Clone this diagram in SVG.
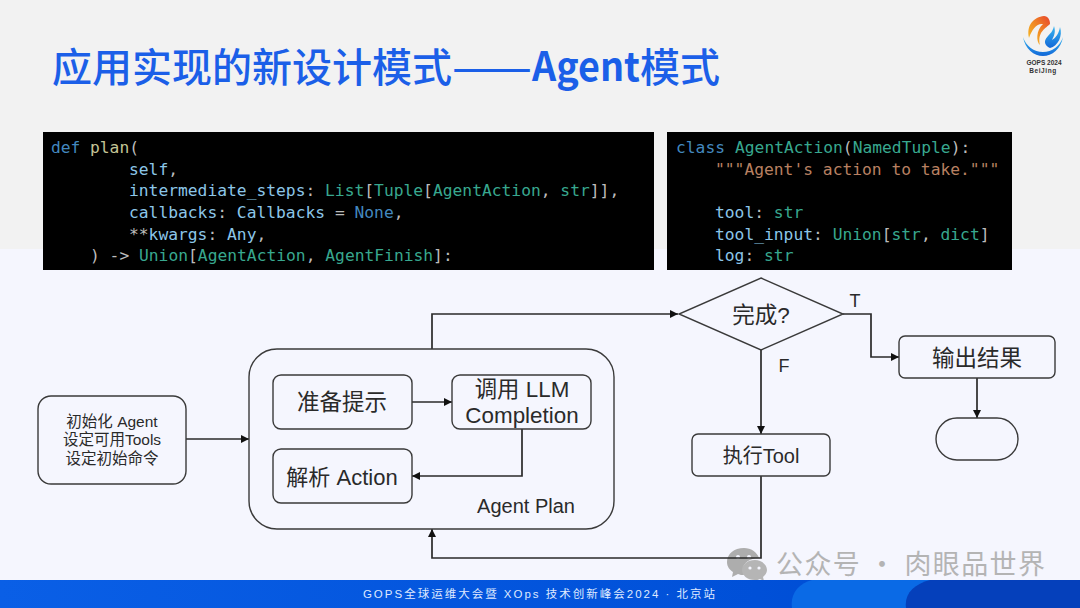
<svg xmlns="http://www.w3.org/2000/svg" width="1080" height="608" viewBox="0 0 1080 608">
<defs>
<style>
.n{fill:none;stroke:#3a3a3a;stroke-width:1.4}
.c{fill:none;stroke:#2a2a2a;stroke-width:1.7}
.t{font-family:"Liberation Sans","Noto Sans CJK SC",sans-serif;fill:#2a2a2a;text-anchor:middle}
.ttl{font-family:"Noto Sans CJK SC","Liberation Sans",sans-serif;font-size:40px;font-weight:500;fill:#1b5fe8}
.code{font-family:"DejaVu Sans Mono",monospace;font-size:16.3px;fill:#8cc6e8;white-space:pre}
.k{fill:#4388bf}.f{fill:#c4c496}.g{fill:#38a88f}.w{fill:#bcbcbc}.s{fill:#b98062}
</style>
<marker id="a" markerWidth="9" markerHeight="8" refX="8" refY="4" orient="auto" markerUnits="userSpaceOnUse"><path d="M0 0L8 4L0 8Z" fill="#111"/></marker>
<linearGradient id="foot" x1="0" x2="1" y1="0" y2="0"><stop offset="0" stop-color="#0a5fe6"/><stop offset=".7" stop-color="#0050d8"/><stop offset="1" stop-color="#0048cc"/></linearGradient>
<linearGradient id="lg1" x1="0" y1="1" x2="1" y2="0"><stop offset="0" stop-color="#f7c325"/><stop offset=".5" stop-color="#f08a24"/><stop offset="1" stop-color="#e8452c"/></linearGradient>
<linearGradient id="lg2" x1="0" y1="0" x2="0" y2="1"><stop offset="0" stop-color="#38b6f0"/><stop offset="1" stop-color="#1268d8"/></linearGradient>
</defs>
<rect width="1080" height="249" fill="#f2f2f2"/>
<rect y="249" width="1080" height="331" fill="#f5f6fe"/>
<g id="title">
<text class="ttl" x="52" y="82" textLength="400">应用实现的新设计模式</text>
<text class="ttl" x="452" y="82" textLength="80" lengthAdjust="spacingAndGlyphs">——</text>
<text class="ttl" x="532" y="81" font-family="'Liberation Sans',sans-serif" style="font-weight:700" textLength="108" lengthAdjust="spacingAndGlyphs">Agent</text>
<text class="ttl" x="640" y="82" textLength="80">模式</text>
</g>
<g id="logo">
<path d="M1029 38C1026 25 1034 17 1044 16C1048 16 1050 20 1050 24C1046 28 1037 32 1040 45C1036 42 1036 30 1043 24C1037 23 1032 29 1029 38Z" fill="url(#lg1)"/>
<path d="M1060 27C1063 36 1058 46 1050 48C1046 46 1042 42 1048 36C1052 32 1053 30 1054 26C1056 32 1054 36 1052 40C1056 38 1059 33 1060 27Z" fill="url(#lg2)"/>
<path d="M1023 37C1025 49 1034 56 1043 56C1052 56 1061 49 1063 37C1060 46 1052 52 1043 52C1034 52 1026 46 1023 37Z" fill="url(#lg2)"/>
<text x="1044" y="64.500" font-family="'Liberation Sans',sans-serif" font-size="6.500" font-weight="700" fill="#333" text-anchor="middle">GOPS 2024</text>
<text x="1043" y="72.500" font-family="'Liberation Sans',sans-serif" font-size="6.500" font-weight="700" fill="#333" text-anchor="middle" letter-spacing=".6">BeiJing</text>
</g>
<g id="code-plan">
<rect x="43" y="132" width="611" height="138" fill="#000"/>
<text class="code" y="152.500"><tspan x="51" class="k">def</tspan><tspan x="90" class="f">plan</tspan><tspan class="w">(</tspan></text>
<text class="code" x="129" y="174.500">self<tspan class="w">,</tspan></text>
<text class="code" x="129" y="195.500">intermediate_steps<tspan class="w">: </tspan><tspan class="g">List</tspan><tspan class="w">[</tspan><tspan class="g">Tuple</tspan><tspan class="w">[</tspan><tspan class="g">AgentAction</tspan><tspan class="w">, </tspan><tspan class="g">str</tspan><tspan class="w">]],</tspan></text>
<text class="code" x="129" y="217.500">callbacks<tspan class="w">: </tspan>Callbacks<tspan class="w"> = </tspan><tspan class="k">None</tspan><tspan class="w">,</tspan></text>
<text class="code" x="129" y="239.500"><tspan class="w">**</tspan>kwargs<tspan class="w">: </tspan>Any<tspan class="w">,</tspan></text>
<text class="code" x="90" y="260.500"><tspan class="w">) -&gt; </tspan><tspan class="g">Union</tspan><tspan class="w">[</tspan><tspan class="g">AgentAction</tspan><tspan class="w">, </tspan><tspan class="g">AgentFinish</tspan><tspan class="w">]:</tspan></text>
</g>
<g id="code-action">
<rect x="667" y="132" width="345" height="138" fill="#000"/>
<text class="code" y="152.500"><tspan x="676" class="k">class</tspan><tspan x="735" class="g">AgentAction</tspan><tspan class="w">(</tspan><tspan class="g">NamedTuple</tspan><tspan class="w">):</tspan></text>
<text class="code s" x="715" y="174.500">"""Agent's action to take."""</text>
<text class="code" x="715" y="217.500">tool<tspan class="w">: </tspan><tspan class="g">str</tspan></text>
<text class="code" x="715" y="239.500">tool_input<tspan class="w">: </tspan><tspan class="g">Union</tspan><tspan class="w">[</tspan><tspan class="g">str</tspan><tspan class="w">, </tspan><tspan class="g">dict</tspan><tspan class="w">]</tspan></text>
<text class="code" x="715" y="260.500">log<tspan class="w">: </tspan><tspan class="g">str</tspan></text>
</g>
<g id="watermark">
<path d="M744 548C734 548 727 554 727 562C727 567 730 570 733 572L732 577L738 574C740 575 742 575 744 575C743 572 743 570 743 569C743 563 750 558 759 558C757 552 751 548 744 548Z" fill="#adadad"/>
<path d="M755 560C747 560 742 565 742 570C742 575 747 580 755 580C757 580 758 580 760 579L764 581L763 577C765 575 767 573 767 570C767 565 762 560 755 560Z" fill="#b5b5b5"/>
<circle cx="738" cy="557" r="2" fill="#f5f6fe"/><circle cx="749" cy="557" r="2" fill="#f5f6fe"/><circle cx="750" cy="568" r="1.600" fill="#f5f6fe"/><circle cx="759" cy="568" r="1.600" fill="#f5f6fe"/>
<text x="776" y="574" font-family="'Noto Sans CJK SC',sans-serif" font-size="27" fill="#b4b4b4" textLength="269">公众号 · 肉眼品世界</text>
</g>
<g id="connectors">
<path class="c" d="M186 439H249" marker-end="url(#a)"/>
<path class="c" d="M412 402H452" marker-end="url(#a)"/>
<path class="c" d="M522 429V476H412" marker-end="url(#a)"/>
<path class="c" d="M432 349V314H678" marker-end="url(#a)"/>
<path class="c" d="M843 314H871V357H899" marker-end="url(#a)"/>
<path class="c" d="M761 350V434" marker-end="url(#a)"/>
<path class="c" d="M977 378V418" marker-end="url(#a)"/>
<path class="c" d="M761 476V558H432V529" marker-end="url(#a)"/>
</g>
<g id="init"><rect class="n" x="38" y="396" width="148" height="88" rx="13"/>
<text class="t" font-size="15.500" x="112" y="427">初始化 Agent</text><text class="t" font-size="15.500" x="112" y="445">设定可用Tools</text><text class="t" font-size="15.500" x="112" y="464">设定初始命令</text></g>
<g id="plan"><rect class="n" x="249" y="349" width="365" height="180" rx="28"/><text class="t" font-size="20" x="526" y="513">Agent Plan</text></g>
<g id="prep"><rect class="n" x="273" y="375" width="139" height="54" rx="8"/><text class="t" font-size="22.500" x="342" y="410">准备提示</text></g>
<g id="llm"><rect class="n" x="452" y="375" width="139" height="54" rx="8"/><text class="t" font-size="22.400" x="522" y="397">调用 LLM</text><text class="t" font-size="22.400" x="522" y="423">Completion</text></g>
<g id="parse"><rect class="n" x="273" y="449" width="139" height="54" rx="8"/><text class="t" font-size="22" x="342" y="485">解析 Action</text></g>
<g id="done"><path class="n" d="M761 278L843 314L761 350L679 314Z"/><text class="t" font-size="22.500" x="761" y="323">完成?</text></g>
<text class="t" font-size="18" x="855" y="307">T</text>
<text class="t" font-size="18" x="784" y="372">F</text>
<g id="output"><rect class="n" x="899" y="336" width="156" height="42" rx="6"/><text class="t" font-size="22.500" x="977" y="366">输出结果</text></g>
<g id="end"><rect class="n" x="936" y="418" width="82" height="42" rx="21"/></g>
<g id="tool"><rect class="n" x="692" y="434" width="138" height="42" rx="6"/><text class="t" font-size="20" x="761" y="463">执行Tool</text></g>
<g id="footer">
<rect y="580" width="1080" height="28" fill="url(#foot)"/>
<path d="M792 608C790 594 798 584 812 580H1080V608Z" fill="#0a6ae6"/>
<path d="M906 608C904 594 914 584 930 580H1080V608Z" fill="#0540bb"/>
<text x="540" y="598" font-family="'Liberation Sans','Noto Sans CJK SC',sans-serif" font-size="11.500" fill="#dfe9ff" text-anchor="middle" letter-spacing="2">GOPS全球运维大会暨 XOps 技术创新峰会2024 · 北京站</text>
</g>
</svg>
